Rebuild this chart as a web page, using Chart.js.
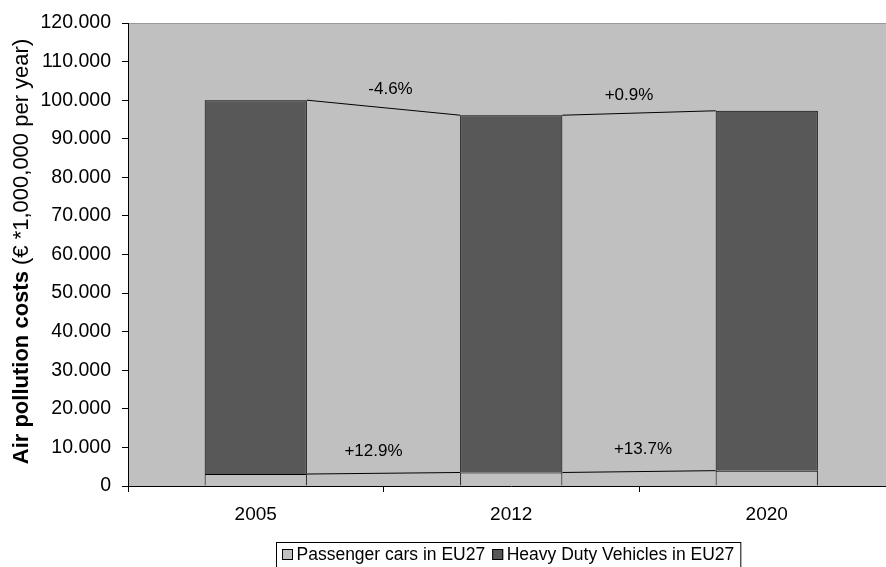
<!DOCTYPE html>
<html>
<head>
<meta charset="utf-8">
<script src="https://cdn.jsdelivr.net/npm/chart.js@4/dist/chart.umd.min.js"></script>
<style>
  html, body { margin: 0; padding: 0; background: #fff; overflow: hidden; }
  #wrap { width: 900px; height: 567px; }
</style>
</head>
<body>
<div id="wrap"><canvas id="grafico" width="900" height="567"></canvas></div>
<script>
// Dados
const anos = ['2005', '2012', '2020'];
const carrosPasseio = [3100, 3500, 3980];        // Passenger cars in EU27
const veiculosPesados = [96900, 92600, 93270];   // Heavy Duty Vehicles in EU27
const variacaoTotal = ['-4.6%', '+0.9%'];        // rótulos acima das linhas de série
const variacaoCarros = ['+12.9%', '+13.7%'];     // rótulos das linhas de baixo
const ticksY = [0, 10000, 20000, 30000, 40000, 50000, 60000, 70000, 80000, 90000, 100000, 110000, 120000];

const nomesSeries = ['Passenger cars in EU27', 'Heavy Duty Vehicles in EU27'];
const cores = ['#C0C0C0', '#585858'];
const fonte = '"Liberation Sans", Arial, sans-serif';

// Formata 120000 -> "120.000"
function formatarMilhar(v) {
    if (v === 0) return '0';
    const s = String(Math.round(v));
    return s.replace(/\B(?=(\d{3})+(?!\d))/g, '.');
}

// Fundo cinza da área do gráfico + borda superior
const fundoPlugin = {
    id: 'fundo',
    beforeDraw(chart) {
        const { ctx, chartArea: a } = chart;
        ctx.save();
        ctx.fillStyle = '#C0C0C0';
        ctx.fillRect(a.left, a.top, a.right - a.left, a.bottom - a.top);
        ctx.strokeStyle = '#9a9a9a';
        ctx.lineWidth = 1;
        ctx.beginPath();
        ctx.moveTo(a.left, a.top + 0.5);
        ctx.lineTo(a.right, a.top + 0.5);
        ctx.stroke();
        ctx.restore();
    }
};

// Linhas de série (estilo Excel) e rótulos de variação
const linhasPlugin = {
    id: 'linhasSerie',
    afterDatasetsDraw(chart) {
        const { ctx } = chart;
        const rotulos = [variacaoCarros, variacaoTotal];
        const ajusteX = [[-10, 4], [7, -10]];
        const ajusteY = [-22, -18];
        ctx.save();
        ctx.strokeStyle = '#000';
        ctx.lineWidth = 1;
        ctx.font = '17px ' + fonte;
        ctx.fillStyle = '#000';
        ctx.textAlign = 'center';
        ctx.textBaseline = 'middle';
        chart.data.datasets.forEach((ds, i) => {
            const barras = chart.getDatasetMeta(i).data;
            for (let k = 0; k < barras.length - 1; k++) {
                const b1 = barras[k], b2 = barras[k + 1];
                const x1 = b1.x + b1.width / 2, x2 = b2.x - b2.width / 2;
                ctx.beginPath();
                ctx.moveTo(x1, b1.y);
                ctx.lineTo(x2, b2.y);
                ctx.stroke();
                const mx = (x1 + x2) / 2 + ajusteX[i][k];
                const my = (b1.y + b2.y) / 2 + ajusteY[i];
                ctx.fillText(rotulos[i][k], mx, my);
            }
        });
        ctx.restore();
    }
};

// Título do eixo Y (parte em negrito + parte normal) e legenda com borda
const textosPlugin = {
    id: 'textos',
    afterDraw(chart) {
        const { ctx, chartArea: a } = chart;
        ctx.save();
        // título do eixo
        const negrito = 'bold 22px ' + fonte;
        const normal = '22px ' + fonte;
        const t1 = 'Air pollution costs ';
        const t2 = '(€ *1,000,000 per year)';
        ctx.font = negrito;
        const w1 = ctx.measureText(t1).width;
        ctx.font = normal;
        const w2 = ctx.measureText(t2).width;
        ctx.translate(22, (a.top + a.bottom) / 2 - 3);
        ctx.rotate(-Math.PI / 2);
        ctx.fillStyle = '#000';
        ctx.textBaseline = 'middle';
        ctx.textAlign = 'left';
        ctx.font = negrito;
        ctx.fillText(t1, -(w1 + w2) / 2, 0);
        ctx.font = normal;
        ctx.fillText(t2, -(w1 + w2) / 2 + w1, 0);
        ctx.restore();

        // legenda
        ctx.save();
        ctx.font = '17.5px ' + fonte;
        const caixa = 11, gap = 3.5, entre = 7;
        let largura = 6;
        nomesSeries.forEach((n, i) => {
            largura += caixa + gap + ctx.measureText(n).width + (i < nomesSeries.length - 1 ? entre : 0);
        });
        largura += 6;
        const lx = 276.5, ly = 542.5, lh = 26;
        ctx.fillStyle = '#fff';
        ctx.fillRect(lx, ly, largura, lh);
        ctx.strokeStyle = '#000';
        ctx.lineWidth = 1;
        ctx.strokeRect(lx, ly, largura, lh);
        let x = lx + 5.5;
        const cy = ly + 12;
        ctx.textBaseline = 'middle';
        nomesSeries.forEach((n, i) => {
            ctx.fillStyle = cores[i];
            ctx.fillRect(x, cy - caixa / 2, caixa, caixa);
            ctx.strokeStyle = '#000';
            ctx.strokeRect(x + 0.5, cy - caixa / 2 + 0.5, caixa - 1, caixa - 1);
            x += caixa + gap;
            ctx.fillStyle = '#000';
            ctx.fillText(n, x, cy + 1);
            x += ctx.measureText(n).width + entre;
        });
        ctx.restore();
    }
};

const ctx = document.getElementById('grafico').getContext('2d');
const grafico = new Chart(ctx, {
    type: 'bar',
    data: {
        labels: anos,
        datasets: [
            {
                label: nomesSeries[0],
                data: carrosPasseio,
                backgroundColor: cores[0],
                borderColor: '#000',
                borderWidth: 1,
                borderSkipped: 'start'
            },
            {
                label: nomesSeries[1],
                data: veiculosPesados,
                backgroundColor: cores[1],
                borderColor: '#000',
                borderWidth: 1,
                borderSkipped: 'start'
            }
        ]
    },
    options: {
        responsive: false,
        animation: false,
        devicePixelRatio: 1,
        layout: { padding: { top: 23, right: 5.5, left: 0, bottom: 0 } },
        categoryPercentage: 1,
        barPercentage: 0.4,
        plugins: {
            legend: { display: false },
            tooltip: { enabled: false }
        },
        scales: {
            x: {
                stacked: true,
                grid: {
                    offset: true,
                    drawOnChartArea: false,
                    color: '#000',
                    tickLength: 6
                },
                border: { color: '#000', width: 1 },
                ticks: {
                    color: '#000',
                    font: { family: fonte, size: 19 },
                    padding: 11
                },
                afterFit(scale) { scale.height = 81; }
            },
            y: {
                stacked: true,
                min: 0,
                max: 120000,
                afterBuildTicks(scale) {
                    scale.ticks = ticksY.map(v => ({ value: v }));
                },
                grid: {
                    drawOnChartArea: false,
                    color: '#000',
                    tickLength: 6
                },
                border: { color: '#000', width: 1 },
                ticks: {
                    color: '#000',
                    font: { family: fonte, size: 19.5 },
                    padding: 11,
                    callback: v => formatarMilhar(v)
                },
                afterFit(scale) { scale.width = 128; }
            }
        }
    },
    plugins: [fundoPlugin, linhasPlugin, textosPlugin]
});
</script>
</body>
</html>
